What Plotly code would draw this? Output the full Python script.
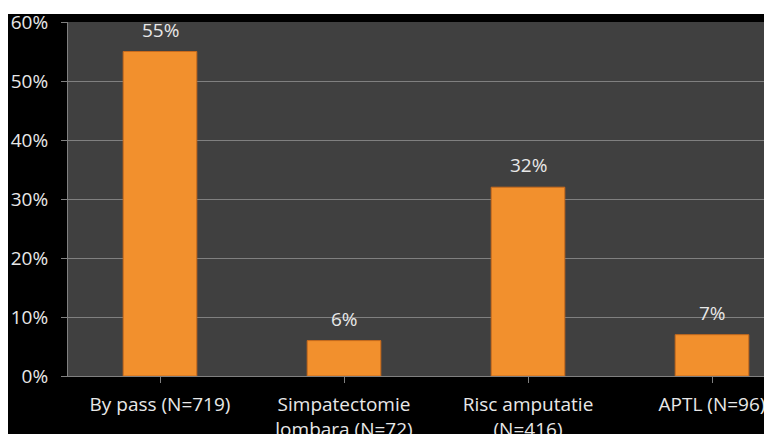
import plotly.graph_objects as go

categories = ["By pass (N=719)", "Simpatectomie<br>lombara (N=72)", "Risc amputatie<br>(N=416)", "APTL (N=96)"]
values = [55, 6, 32, 7]
y_ticks = [0, 10, 20, 30, 40, 50, 60]
y_tick_labels = [f"{t}%" for t in y_ticks]

W, H = 764, 434
ml, mt, mb, mr = 68, 22, 58, 0
cat_px = 184
plot_w = W - ml - mr
xmax = -0.5 + plot_w / cat_px
FONT = "Open Sans"
FS = 19

fig = go.Figure()
fig.add_trace(go.Bar(
    x=list(range(len(categories))), y=values,
    width=0.40,
    marker=dict(color="#F2902D", line=dict(color="#C86A1C", width=1)),
))

for i, v in enumerate(values):
    fig.add_annotation(x=i, y=v, text=f"{v}%", showarrow=False, yanchor="bottom",
                       yshift=7, font=dict(color="#E8E8E8", size=FS, family=FONT))

fig.update_layout(
    width=W, height=H,
    margin=dict(l=ml, r=mr, t=mt, b=mb, autoexpand=False),
    paper_bgcolor="#000000", plot_bgcolor="#404040",
    font=dict(family=FONT, color="#E8E8E8", size=FS),
    showlegend=False,
    shapes=[
        dict(type="rect", xref="paper", yref="paper", x0=-0.2, x1=1.1, y0=1.0 + 8/(H-mt-mb), y1=1.2,
             fillcolor="white", line=dict(width=0), layer="above"),
        dict(type="rect", xref="paper", yref="paper", x0=-ml/plot_w, x1=-(ml-8)/plot_w, y0=-0.3, y1=1.2,
             fillcolor="white", line=dict(width=0), layer="above"),
    ],
)
fig.update_xaxes(
    range=[-0.5, xmax], tickmode="array", tickvals=list(range(len(categories))), ticktext=categories,
    tickson="boundaries", ticks="outside", ticklen=6, tickcolor="#808080",
    showline=True, linecolor="#808080", linewidth=1, showgrid=False,
    tickfont=dict(size=FS, color="#E8E8E8", family=FONT), ticklabelstandoff=5,
    automargin=False, ticklabeloverflow="allow",
)
fig.update_yaxes(
    range=[0, 60], tickmode="array", tickvals=y_ticks, ticktext=y_tick_labels,
    ticks="outside", ticklen=6, tickcolor="#808080",
    showline=True, linecolor="#808080", linewidth=1,
    showgrid=True, gridcolor="#808080", gridwidth=1,
    tickfont=dict(size=FS, color="#E8E8E8", family=FONT), ticklabelstandoff=9,
    zeroline=False, automargin=False,
)

fig.write_html("out.html")
